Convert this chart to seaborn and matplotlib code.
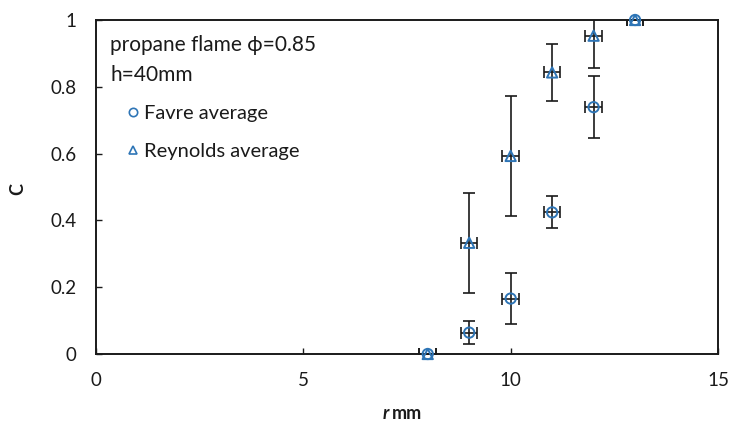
import numpy as np
import pandas as pd
import matplotlib
matplotlib.use("Agg")
import matplotlib.pyplot as plt
import seaborn as sns
from matplotlib.ticker import FuncFormatter
from matplotlib.lines import Line2D

r_mm = [8, 9, 10, 11, 12, 13]
favre = [0.0, 0.064, 0.166, 0.424, 0.739, 1.0]
favre_err = [0.0, 0.034, 0.077, 0.048, 0.092, 0.0]
reynolds = [0.0, 0.333, 0.593, 0.843, 0.953, 1.0]
reynolds_err = [0.0, 0.150, 0.180, 0.085, 0.097, 0.0]
x_err = [0.2, 0.2, 0.2, 0.2, 0.2, 0.2]
x_ticks = [0, 5, 10, 15]
y_ticks = [0, 0.2, 0.4, 0.6, 0.8, 1.0]

sns.set_theme(style="white")
plt.rcParams['font.family'] = ['Lato', 'DejaVu Sans']

blue = "#2E75B6"
dark = "#1a1a1a"

fig = plt.figure(figsize=(7.29, 4.23), dpi=100)
ax = fig.add_axes([96/729, 1-354/423, (718-96)/729, (354-20)/423])

df = pd.DataFrame({"r": r_mm * 2,
                   "C": favre + reynolds,
                   "err": favre_err + reynolds_err,
                   "kind": ["Favre average"] * len(r_mm) + ["Reynolds average"] * len(r_mm)})

sns.scatterplot(data=df, x="r", y="C", style="kind",
                markers={"Favre average": "o", "Reynolds average": "^"},
                s=55, linewidth=1.4, ax=ax, legend=False, zorder=3, clip_on=False)
for coll in list(ax.collections):
    coll.set_facecolor('none')
    coll.set_edgecolor(blue)

# error bars
for kind in ["Reynolds average", "Favre average"]:
    sub = df[df.kind == kind]
    ax.errorbar(sub.r, sub.C, yerr=sub.err, xerr=x_err, fmt='none',
                ecolor=dark, elinewidth=1.2, capsize=4, capthick=1.2, zorder=2)

ax.set_xlim(0, 15)
ax.set_ylim(0, 1)
ax.set_xticks(x_ticks)
ax.set_yticks(y_ticks)
ax.yaxis.set_major_formatter(FuncFormatter(lambda v, p: "0" if v == 0 else ("1" if v == 1 else f"{v:.1f}")))
ax.xaxis.set_major_formatter(FuncFormatter(lambda v, p: f"{int(v)}"))
ax.tick_params(axis='both', direction='in', length=4, width=1, labelsize=13.5, colors=dark)
ax.tick_params(axis='x', pad=13, bottom=True)
ax.tick_params(axis='y', pad=14, left=True)
for s in ax.spines.values():
    s.set_visible(True)
    s.set_color(dark)
    s.set_linewidth(1.4)

ax.set_xlabel("")
ax.set_ylabel("")
fig.text(18/729, 1-189/423, "C", fontsize=13, fontweight='bold', rotation=90,
         ha='center', va='center', color=dark)
fig.text(392/729, 1-413/423, "mm", fontsize=13, fontweight='bold', ha='left', va='center', color=dark)
fig.text(389/729, 1-413/423, "r", fontsize=13, fontweight='bold', style='italic', ha='right', va='center', color=dark)

ax.text(14/622, 1-15/334, "propane flame \u03d5=0.85\nh=40mm", transform=ax.transAxes,
        fontsize=15, ha='left', va='top', linespacing=1.6, color=dark,
        family=['Lato', 'DejaVu Sans'])

handles = [Line2D([], [], marker='o', ls='none', markerfacecolor='none', markeredgecolor=blue, markersize=6, mew=1.2),
           Line2D([], [], marker='^', ls='none', markerfacecolor='none', markeredgecolor=blue, markersize=6, mew=1.2)]
leg = ax.legend(handles, ["Favre average", "Reynolds average"], loc='upper left',
                bbox_to_anchor=(127/729, 1-105/423), bbox_transform=fig.transFigure,
                frameon=False, fontsize=14.5, handlelength=0.6, handletextpad=0.25,
                labelspacing=1.05, borderpad=0, borderaxespad=0)
for t in leg.get_texts():
    t.set_color(dark)

fig.savefig("out.png", dpi=100)
